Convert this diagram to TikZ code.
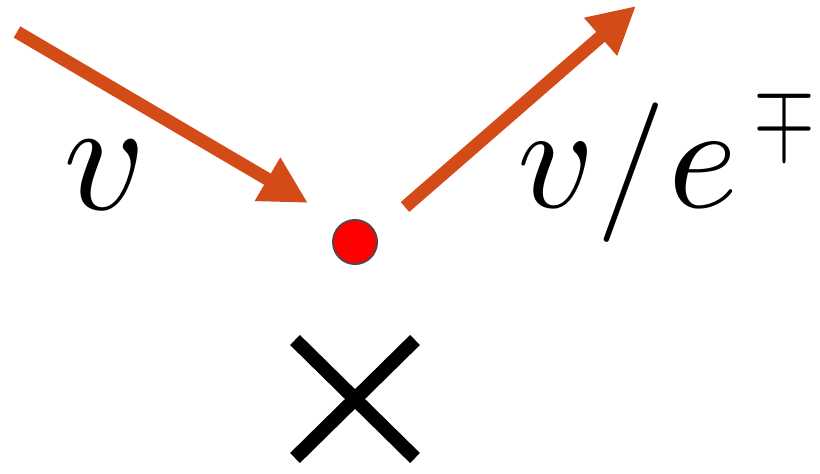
\documentclass[tikz,border=0pt]{standalone}
\usepackage{graphicx}
\usetikzlibrary{arrows.meta}
\definecolor{arroworange}{HTML}{D34B17}
\definecolor{dotborder}{HTML}{5B4343}
\newcommand{\bigtext}[1]{\scalebox{16}{#1}}
\tikzset{
  fatarrow/.style={draw=arroworange, line width=13bp,
    -{Triangle[length=47bp,width=47bp,fill=arroworange]}},
  bigmath/.style={inner sep=0pt, anchor=base},
  crossline/.style={line width=14bp, black}
}
\begin{document}
\begin{tikzpicture}[x=1bp,y=-1bp]
\useasboundingbox (0,0) rectangle (820,474);
\coordinate (a1s) at (17,32);
\coordinate (a1e) at (308,203);
\coordinate (a2s) at (405,207);
\coordinate (a2e) at (636,6);
\draw[fatarrow] (a1s) -- (a1e);
\draw[fatarrow] (a2s) -- (a2e);
\node[circle, minimum size=44bp, inner sep=0pt, fill=red, draw=dotborder, line width=2bp] (dot) at (355,242) {};
\node[bigmath] (lv) at (105,210) {\bigtext{$v$}};
\node[bigmath] (lv2) at (556,208) {\scalebox{15}{$v$}};
\node[bigmath] (lsl) at (631,208) {\scalebox{14}{$/$}};
\node[bigmath] (le) at (703,208) {\scalebox{15}{$e$}};
\node[inner sep=0pt] (lmp) at (784,120) {\scalebox{8}[10.5]{$\mp$}};
\coordinate (xtl) at (295,340);
\coordinate (xbr) at (415,458);
\coordinate (xtr) at (415,340);
\coordinate (xbl) at (295,458);
\draw[crossline] (xtl) -- (xbr);
\draw[crossline] (xtr) -- (xbl);
\end{tikzpicture}
\end{document}
